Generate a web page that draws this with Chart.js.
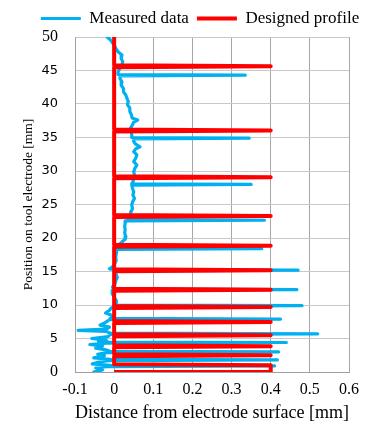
<!DOCTYPE html>
<html><head><meta charset="utf-8">
<script src="https://cdn.jsdelivr.net/npm/chart.js@4.4.1/dist/chart.umd.min.js"></script>
<style>html,body{margin:0;padding:0;background:#fff}#wrap{width:380px;height:421px}</style>
</head><body><div id="wrap"><canvas id="c" width="380" height="421"></canvas></div>
<script>
const seriesNames = ["Measured data", "Designed profile"];
const xTitle = "Distance from electrode surface [mm]";
const yTitle = "Position on tool electrode [mm]";

const measuredY = [50,49.6,49.2,48.8,48.3,47.8,47.3,46.8,46.3,45.9,45.4,44.8,44.4,44.3,44.2,43.8,43.3,42.8,42.3,41.8,41.3,40.8,40.4,39.9,39.4,38.9,38.4,37.9,37.6,37.3,36.9,36.4,35.9,35.4,35.0,34.9,34.8,34.4,34.0,33.6,33.3,32.9,32.4,31.9,31.4,30.9,30.4,29.9,29.4,28.8,28.4,28.1,28.0,27.9,27.4,26.9,26.4,25.9,25.4,24.9,24.4,23.9,23.4,23.0,22.75,22.65,22.55,22.2,21.7,21.2,20.7,20.2,19.8,19.4,19.0,18.6,18.5,18.4,18.3,17.8,17.2,16.6,16.0,15.6,15.4,15.3,15.2,15.1,14.6,14.1,13.6,13.1,12.7,12.4,12.3,12.2,11.7,11.2,10.7,10.3,10.0,9.9,9.8,9.5,9.2,8.8,8.5,8.2,8.0,7.9,7.8,7.4,7.0,6.7,6.4,6.2,6.05,5.8,5.7,5.6,5.3,5.0,4.75,4.55,4.45,4.4,4.3,4.1,3.85,3.55,3.3,3.1,3.0,2.9,2.65,2.4,2.1,1.9,1.8,1.7,1.45,1.2,1.0,0.9,0.8,0.6,0.3,0.0];
const measuredX = [-0.018,-0.01,-0.005,0.0,0.004,0.01,0.02,0.018,0.022,0.02,0.015,0.01,0.01,0.335,0.015,0.015,0.02,0.018,0.024,0.024,0.03,0.033,0.036,0.034,0.04,0.04,0.044,0.046,0.06,0.05,0.047,0.042,0.043,0.045,0.045,0.345,0.05,0.05,0.055,0.066,0.055,0.05,0.058,0.055,0.05,0.058,0.053,0.05,0.052,0.05,0.048,0.045,0.35,0.045,0.047,0.05,0.048,0.052,0.047,0.045,0.047,0.043,0.042,0.038,0.035,0.384,0.03,0.028,0.027,0.028,0.027,0.03,0.028,0.02,0.012,0.01,0.01,0.377,0.007,0.006,0.004,0.005,0.0,-0.006,-0.012,0.0,0.47,0.0,0.005,0.008,0.004,0.002,-0.004,-0.002,0.467,-0.003,-0.005,0.0,0.005,0.006,0.005,0.48,0.0,-0.008,-0.012,-0.022,-0.008,-0.005,-0.01,0.425,-0.012,-0.022,-0.036,-0.012,-0.02,-0.092,-0.02,-0.01,0.52,-0.01,-0.015,-0.057,-0.02,-0.04,-0.015,0.44,-0.02,-0.062,-0.03,-0.047,-0.02,-0.01,0.42,-0.02,-0.042,-0.025,-0.052,-0.01,0.417,-0.015,-0.042,-0.056,-0.01,0.41,-0.02,-0.047,-0.03,-0.052];

// Designed profile: position (mm) and distance (mm)
const profileY = [50,45.8,45.65,45.5,36.2,36.05,35.9,29.23,29.08,28.93,23.45,23.3,23.15,18.99,18.84,18.69,15.35,15.2,15.05,12.42,12.27,12.12,9.85,9.7,9.55,7.61,7.46,7.31,5.65,5.5,5.35,4.01,3.86,3.71,2.65,2.5,2.35,1.15,1.0,0,0];
const profileX = [0,0,0.4,0,0,0.4,0,0,0.4,0,0,0.4,0,0,0.4,0,0,0.4,0,0,0.4,0,0,0.4,0,0,0.4,0,0,0.4,0,0,0.4,0,0,0.4,0,0,0.4,0.4,0];

const xMin = -0.1, xMax = 0.6, xStep = 0.1;
const yMin = 0, yMax = 50, yStep = 5;

const measuredPts = measuredY.map((y,i)=>({x:measuredX[i], y}));
const profilePts = profileY.map((y,i)=>({x:profileX[i], y}));

const SERIF = "'Liberation Serif', 'Times New Roman', serif";
const SANS = "'DejaVu Sans', Verdana, sans-serif";
const BLUE = '#00b0f0', RED = '#ff0000';

const legendShift = {
  id: 'legendShift',
  afterLayout(chart) {
    const lg = chart.legend;
    if (lg) { lg.left += 10; lg.right += 10; }
  }
};

new Chart(document.getElementById('c'), {
  type: 'scatter',
  plugins: [legendShift],
  data: {
    datasets: [
      { label: seriesNames[0], data: measuredPts, showLine: true, borderColor: BLUE, backgroundColor: BLUE,
        borderWidth: 3.2, pointRadius: 0, borderJoinStyle: 'round', borderCapStyle: 'round', order: 1,
        pointStyle: 'line' },
      { label: seriesNames[1], data: profilePts, showLine: true, borderColor: RED, backgroundColor: RED,
        borderWidth: 4, pointRadius: 0, borderJoinStyle: 'round', borderCapStyle: 'butt', order: 0,
        pointStyle: 'line' }
    ]
  },
  options: {
    responsive: false,
    animation: false,
    layout: { padding: { left: 0, right: 0, top: 2, bottom: 0 } },
    plugins: {
      tooltip: { enabled: false },
      legend: {
        position: 'top',
        labels: {
          sort: (a,b) => a.datasetIndex - b.datasetIndex,
          usePointStyle: true, pointStyleWidth: 40, boxWidth: 40, boxHeight: 3,
          color: '#000', font: { family: SERIF, size: 17 }, padding: 8
        }
      }
    },
    scales: {
      x: {
        type: 'linear', min: xMin, max: xMax,
        afterFit(s) { s.height = 49; s.paddingRight = 31; },
        ticks: { stepSize: xStep, color: '#000', font: { family: SERIF, size: 16 }, padding: 8,
          callback: v => Math.abs(v) < 1e-9 ? '0' : Number(v).toFixed(1) },
        grid: { color: '#a6a6a6', lineWidth: 1, drawTicks: false },
        border: { color: '#a0a0a0', width: 1 },
        title: { display: true, text: xTitle, color: '#000', font: { family: SERIF, size: 18 }, padding: { top: 2, bottom: -3 } }
      },
      y: {
        type: 'linear', min: yMin, max: yMax,
        afterFit(s) { s.width = 75; },
        ticks: { stepSize: yStep, color: '#000', padding: 17,
          font: ctx => (ctx.tick && (ctx.tick.value === 0 || ctx.tick.value === 50))
            ? { family: SERIF, size: 16 } : { family: SANS, size: 13 },
          callback: v => String(v) },
        grid: { color: '#c8c8c8', lineWidth: 1, drawTicks: false },
        border: { color: '#a0a0a0', width: 1 },
        title: { display: true, text: yTitle, color: '#000', font: { family: SERIF, size: 13.5 }, padding: { top: 20, bottom: 0 } }
      }
    }
  }
});
</script></body></html>
